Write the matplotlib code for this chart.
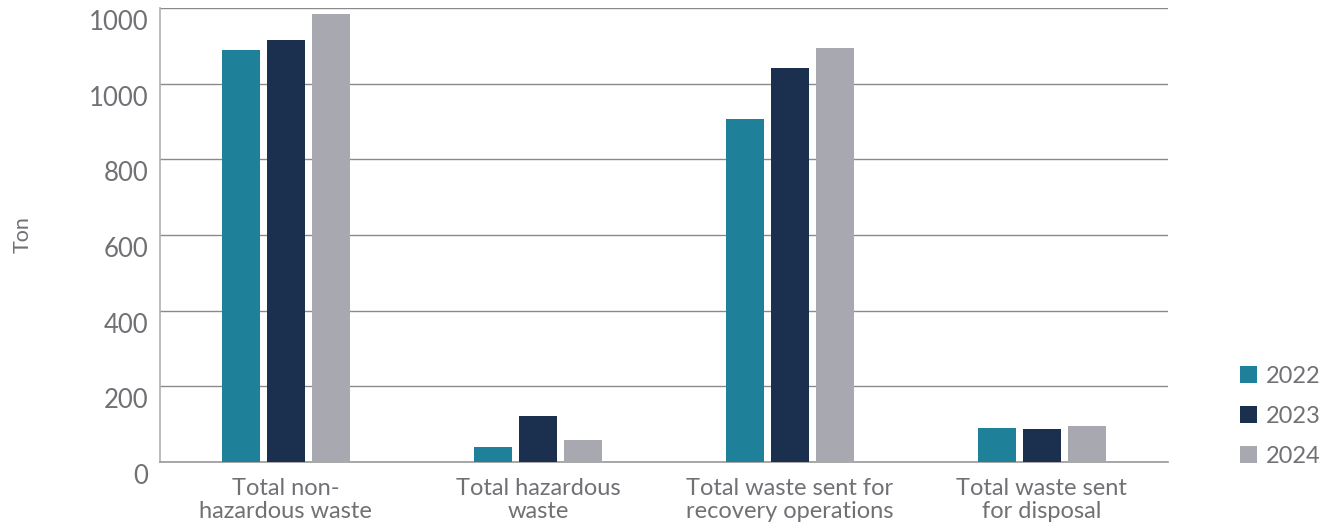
import numpy as np
import matplotlib.pyplot as plt
from matplotlib.transforms import ScaledTranslation

categories = ["Total non-\nhazardous waste", "Total hazardous\nwaste",
              "Total waste sent for\nrecovery operations", "Total waste sent\nfor disposal"]
years = ["2022", "2023", "2024"]
values_2022 = [1088, 40, 906, 90]
values_2023 = [1115, 122, 1041, 87]
values_2024 = [1184, 58, 1094, 95]
y_ticks = [0, 200, 400, 600, 800, 1000, 1200]
y_tick_labels = ["0", "200", "400", "600", "800", "1000", "1000"]

colors = ["#1f8199", "#1b2f4e", "#a8a8b0"]
text_color = "#707175"

plt.rcParams['font.family'] = ['Lato', 'DejaVu Sans']

fig = plt.figure(figsize=(13.33, 5.24), dpi=100)
ax = fig.add_axes([0.12, 0.1183, 0.756, 0.8664])

x = np.arange(len(categories))
width = 0.151
step = 0.179
for i, (vals, year) in enumerate(zip([values_2022, values_2023, values_2024], years)):
    ax.bar(x + (i - 1) * step, vals, width, color=colors[i], label=year, zorder=3)

ax.set_xlim(-0.5, 3.5)
ax.set_ylim(0, 1200)
ax.set_yticks(y_ticks)
ax.set_yticklabels(y_tick_labels, fontsize=18.5, color=text_color)
ax.set_xticks(x)
ax.set_xticklabels(categories, fontsize=17, color=text_color, linespacing=1.1)
ax.tick_params(axis='both', length=0)
ax.tick_params(axis='y', pad=8.5)
ax.tick_params(axis='x', pad=11.5)

# y labels sit a little below their gridlines
shift = ScaledTranslation(0, -12 / 100, fig.dpi_scale_trans)
for lbl in ax.get_yticklabels():
    lbl.set_transform(lbl.get_transform() + shift)

ax.yaxis.grid(True, color="#8a8a8a", linewidth=1, zorder=0)
for side in ["top", "right"]:
    ax.spines[side].set_visible(False)
ax.spines["left"].set_color("#b0b0b0")
ax.spines["bottom"].set_color("#9a9a9a")
ax.spines["left"].set_linewidth(1.2)
ax.spines["bottom"].set_linewidth(1.2)

ax.set_ylabel("Ton", fontsize=15.5, color=text_color, labelpad=40)

leg = ax.legend(loc="lower left", bbox_to_anchor=(1.051, -0.057), frameon=False,
                fontsize=17, handlelength=0.72, handleheight=0.72, handletextpad=0.35,
                labelspacing=0.8)
for t in leg.get_texts():
    t.set_color(text_color)

fig.savefig("out.png", dpi=100)
